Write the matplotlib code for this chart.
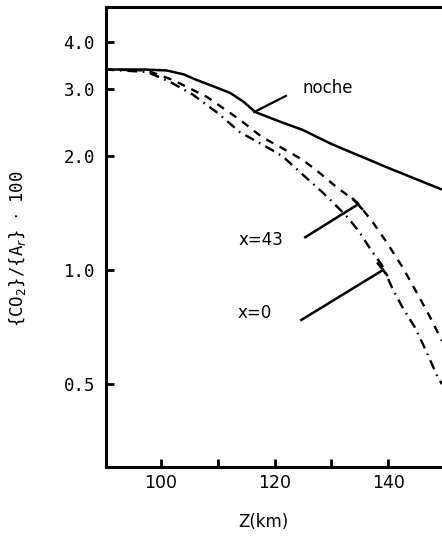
import matplotlib
matplotlib.use("Agg")
import matplotlib.pyplot as plt
from matplotlib.ticker import FixedLocator, NullFormatter, NullLocator

# altitude (km) and ratio values
z_noche = [90, 97, 101, 104, 106.3, 109, 112.2, 114.5, 116.6, 121, 125, 130, 140, 149.5]
r_noche = [3.38, 3.38, 3.36, 3.28, 3.17, 3.06, 2.93, 2.78, 2.61, 2.46, 2.34, 2.15, 1.86, 1.63]

z_x43 = [90, 97.5, 102.1, 108.1, 113.9, 117.8, 121.0, 125.0, 128.0, 131.0, 134.5,
         137.4, 139.8, 142.5, 145.1, 147.4, 149.5]
r_x43 = [3.38, 3.36, 3.17, 2.86, 2.49, 2.24, 2.11, 1.95, 1.80, 1.65, 1.51,
         1.33, 1.18, 1.02, 0.869, 0.751, 0.65]

z_x0 = [90, 97.5, 101.5, 105.6, 109.9, 113.9, 119.6, 121.5, 124.5, 128.5, 131.0, 133.0,
        135.1, 136.8, 138.9, 140.9, 142.6, 144.8, 146.2, 147.4, 148.8, 149.5]
r_x0 = [3.38, 3.33, 3.14, 2.90, 2.60, 2.31, 2.07, 1.99, 1.81, 1.60, 1.47, 1.37,
        1.25, 1.14, 1.03, 0.885, 0.794, 0.703, 0.634, 0.579, 0.519, 0.50]

y_ticks = [0.5, 1.0, 2.0, 3.0, 4.0]
y_ticklabels = ["0.5", "1.0", "2.0", "3.0", "4.0"]
x_ticks = [100, 120, 140]
x_minor = [110, 130]

fig = plt.figure(figsize=(4.42, 5.40), dpi=100)
ax = fig.add_axes([0.240, 0.135, 0.760, 0.852])

ax.plot(z_noche, r_noche, color="black", lw=1.8, solid_capstyle="butt")
ax.plot(z_x43, r_x43, color="black", lw=1.7, dashes=(3.4, 3.0))
ax.plot(z_x0, r_x0, color="black", lw=1.7, dashes=(4.2, 2.4, 0.7, 2.4))

ax.set_yscale("log")
ax.set_xlim(90.3, 149.5)
ax.set_ylim(0.302, 4.94)

ax.yaxis.set_major_locator(FixedLocator(y_ticks))
ax.yaxis.set_minor_locator(NullLocator())
ax.yaxis.set_minor_formatter(NullFormatter())
ax.set_yticklabels(y_ticklabels, family="DejaVu Sans Mono", fontsize=12.5)
ax.set_xticks(x_ticks)
ax.set_xticks(x_minor, minor=True)
ax.set_xticklabels([str(v) for v in x_ticks], family="DejaVu Sans", fontsize=12.5)

ax.tick_params(which="both", direction="in", length=6, width=2, top=False, right=False)
ax.tick_params(axis="y", pad=8)
ax.tick_params(axis="x", pad=5)

for side in ["left", "bottom", "top"]:
    ax.spines[side].set_linewidth(2.2)
ax.spines["right"].set_visible(False)

# leader lines and labels
ax.plot([116.4, 122.0], [2.61, 2.88], color="black", lw=1.6)
ax.text(129.4, 3.02, "noche", fontsize=12, ha="center", va="center")

ax.plot([125.4, 134.7], [1.22, 1.49], color="black", lw=1.8)
ax.plot([133.8, 135.4], [1.54, 1.45], color="black", lw=1.8)
ax.text(117.6, 1.20, "x=43", fontsize=12, ha="center", va="center")

ax.plot([124.7, 139.1], [0.738, 1.0], color="black", lw=1.8)
ax.plot([138.2, 139.8], [1.04, 0.97], color="black", lw=1.8)
ax.text(116.4, 0.77, "x=0", fontsize=12, ha="center", va="center")

fig.text(0.040, 0.540, "{CO$_2$}/{A$_r$} $\\cdot$ 100", rotation=90, ha="center", va="center",
         family="DejaVu Sans Mono", fontsize=12.5)
fig.text(0.597, 0.034, "Z(km)", ha="center", va="center", fontsize=12)

fig.savefig("out.png", dpi=100)
